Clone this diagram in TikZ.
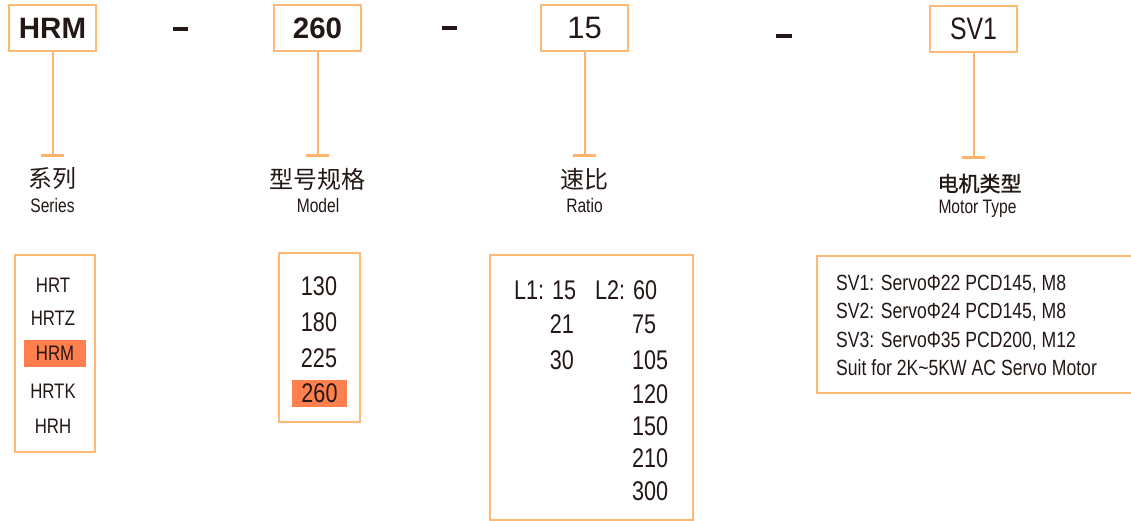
\documentclass[tikz,border=0pt]{standalone}
\usepackage{fontspec}
\setmainfont{Liberation Sans}
\newfontfamily\nar[FakeStretch=0.8]{Liberation Sans}
\newfontfamily\cjk{Noto Sans CJK SC}
\newfontfamily\cjkmed[FakeBold=1.2]{Noto Sans CJK SC}
\usetikzlibrary{arrows.meta}
\definecolor{ink}{HTML}{231815}
\definecolor{frame}{HTML}{FFB977}
\definecolor{hl}{HTML}{FF7F4F}
\definecolor{stem}{HTML}{FFB36B}
\begin{document}
\begin{tikzpicture}[x=1pt,y=-1pt,
  codebox/.style={draw=frame,line width=2pt,minimum width=87pt,minimum height=46pt,inner sep=0pt,text=ink},
  topbold/.style={font=\bfseries\fontsize{29.5}{30}\selectfont},
  topreg/.style={font=\fontsize{31}{31}\selectfont},
  topnar/.style={font=\nar\fontsize{31}{31}\selectfont},
  stemline/.style={draw=stem,line width=2pt,-{Bar[width=23pt,line width=3pt]}},
  dashmark/.style={fill=ink},
  cnlabel/.style={font=\cjk\fontsize{24}{24}\selectfont,text=ink,inner sep=0pt},
  cnbold/.style={font=\cjkmed\fontsize{21}{21}\selectfont,text=ink,inner sep=0pt},
  enlabel/.style={font=\nar\fontsize{19.5}{20}\selectfont,text=ink,anchor=base,inner sep=0pt},
  listframe/.style={draw=frame,line width=2pt},
  item/.style={font=\nar\fontsize{21}{21}\selectfont,text=ink,anchor=base,inner sep=0pt},
  num/.style={font=\nar\fontsize{27}{27}\selectfont,text=ink,anchor=base,inner sep=0pt},
  motortext/.style={font=\nar\fontsize{22}{22}\selectfont,text=ink,anchor=base west,inner sep=0pt},
  hlbox/.style={fill=hl,inner sep=0pt,text=ink}
]
\useasboundingbox (0,0) rectangle (1131,521);
\clip (0,0) rectangle (1131,521);

% top code boxes
\node[codebox,topbold] (hrm) at (52.5,28) {HRM};
\node[codebox,topbold] (m260) at (317.5,28) {260};
\node[codebox,topreg] (r15) at (584.5,28) {15};
\node[codebox,topnar] (sv1) at (973.5,29) {SV1};

% dashes
\fill[dashmark] (173,27) rectangle (188,31);
\fill[dashmark] (442,26) rectangle (457,30);
\fill[dashmark] (776,34) rectangle (792,38);

% stems
\coordinate (t1) at (hrm.south |- 0,157);
\coordinate (t2) at (m260.south |- 0,157);
\coordinate (t3) at (r15.south |- 0,157);
\coordinate (t4) at (sv1.south |- 0,159);
\draw[stemline] (hrm.south) -- (t1);
\draw[stemline] (m260.south) -- (t2);
\draw[stemline] (r15.south) -- (t3);
\draw[stemline] (sv1.south) -- (t4);

% labels
\node[cnlabel] (c1) at (52.5,179) {系列};
\node[enlabel] (e1) at (52.5,213) {Series};
\node[cnlabel] (c2) at (317.5,179) {型号规格};
\node[enlabel] (e2) at (318,213) {Model};
\node[cnlabel] (c3) at (584.5,179) {速比};
\node[enlabel] (e3) at (584.5,213) {Ratio};
\node[cnbold] (c4) at (979.5,183.5) {电机类型};
\node[enlabel] (e4) at (977.5,214) {Motor Type};

% series list
\draw[listframe] (15,255) rectangle (95,452);
\node[item] (s1) at (53,292) {HRT};
\node[item] (s2) at (53,325) {HRTZ};
\node[hlbox,minimum width=62pt,minimum height=27pt,font=\nar\fontsize{21}{21}\selectfont] (s3) at (55,353.5) {HRM};
\node[item] (s4) at (53,398) {HRTK};
\node[item] (s5) at (53,433) {HRH};

% model list
\draw[listframe] (279,253) rectangle (360,422);
\node[num] (d1) at (319,295) {130};
\node[num] (d2) at (319,331) {180};
\node[num] (d3) at (319,367) {225};
\node[hlbox,minimum width=55pt,minimum height=27pt,font=\nar\fontsize{27}{27}\selectfont] (d4) at (319.5,393.5) {260};

% ratio list
\draw[listframe] (490,255) rectangle (693,520);
\node[num,anchor=base west] (l1) at (514,299) {L1: 15};
\node[num,anchor=base east] (l1b) at (574,333) {21};
\node[num,anchor=base east] (l1c) at (574,369) {30};
\node[num,anchor=base west] (l2) at (595,299) {L2: 60};
\node[num,anchor=base west] (l2b) at (632,333) {75};
\node[num,anchor=base west] (l2c) at (632,369) {105};
\node[num,anchor=base west] (l2d) at (632,403) {120};
\node[num,anchor=base west] (l2e) at (632,435) {150};
\node[num,anchor=base west] (l2f) at (632,467) {210};
\node[num,anchor=base west] (l2g) at (632,500) {300};

% motor list
\draw[listframe] (1135,256) -- (817,256) -- (817,393) -- (1135,393);
\node[motortext] (v1) at (836,290) {SV1: ServoΦ22 PCD145, M8};
\node[motortext] (v2) at (836,318) {SV2: ServoΦ24 PCD145, M8};
\node[motortext] (v3) at (836,347) {SV3: ServoΦ35 PCD200, M12};
\node[motortext] (v4) at (836,375) {Suit for 2K\textasciitilde 5KW AC Servo Motor};
\end{tikzpicture}
\end{document}
